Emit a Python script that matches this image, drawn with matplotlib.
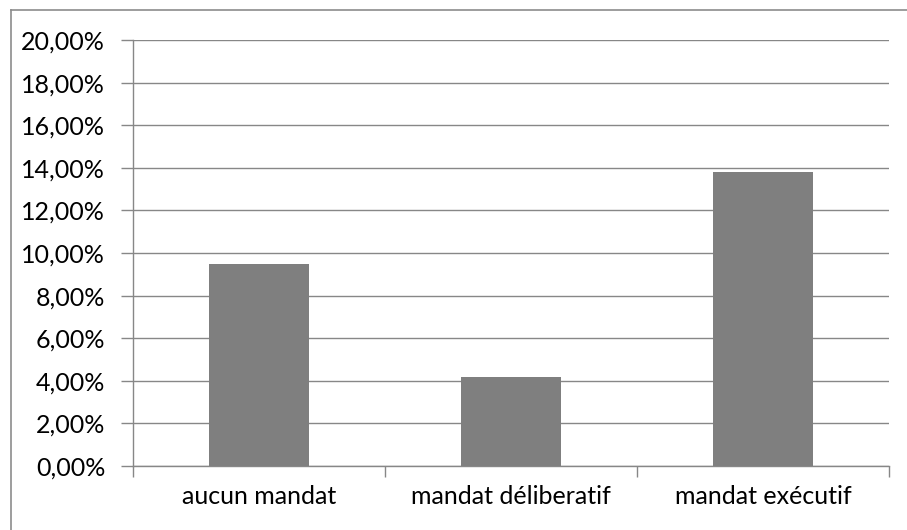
import matplotlib
matplotlib.use("Agg")
import matplotlib.pyplot as plt
from matplotlib.ticker import FuncFormatter, FixedLocator, NullFormatter
from matplotlib.lines import Line2D

categories = ["aucun mandat", "mandat déliberatif", "mandat exécutif"]
values = [9.5, 4.2, 13.8]
yticks = [0, 2, 4, 6, 8, 10, 12, 14, 16, 18, 20]

W, H = 907, 530
fig = plt.figure(figsize=(W / 100, H / 100), dpi=100)
plt.rcParams['font.family'] = ['Lato', 'DejaVu Sans']

ax = fig.add_axes([133 / W, 1 - 466 / H, (889 - 133) / W, (466 - 40) / H])
x = list(range(len(categories)))
ax.bar(x, values, width=0.4, color="#7f7f7f", zorder=3)
ax.set_xlim(-0.5, len(categories) - 0.5)
ax.set_ylim(0, 20)

gc = "#878787"
fs = 18
ax.set_yticks(yticks)
ax.yaxis.set_major_formatter(FuncFormatter(lambda v, p: f"{v:.2f}".replace(".", ",") + "%"))
ax.grid(axis="y", color=gc, linewidth=1.0, zorder=0)
ax.tick_params(axis="y", length=9, width=1, color=gc, labelsize=fs, pad=11, labelcolor="#000000")

ax.xaxis.set_major_locator(FixedLocator([-0.5, 0.5, 1.5, 2.5]))
ax.xaxis.set_major_formatter(NullFormatter())
ax.xaxis.set_minor_locator(FixedLocator(x))
ax.set_xticklabels(categories, minor=True)
ax.tick_params(axis="x", which="major", length=8, width=1, color=gc, direction="out")
ax.tick_params(axis="x", which="minor", length=0, labelsize=fs, pad=14, labelcolor="#000000")

for s in ["top", "right"]:
    ax.spines[s].set_visible(False)
for s in ["left", "bottom"]:
    ax.spines[s].set_color(gc)
    ax.spines[s].set_linewidth(1.0)

# outer chart border (top and left visible)
fig.add_artist(Line2D([11 / W, 11 / W], [1 - 10 / H, 0], transform=fig.transFigure, color="#8c8c8c", linewidth=1.2))
fig.add_artist(Line2D([11 / W, 1], [1 - 10 / H, 1 - 10 / H], transform=fig.transFigure, color="#8c8c8c", linewidth=1.2))

fig.savefig("out.png", dpi=100, facecolor="white")
